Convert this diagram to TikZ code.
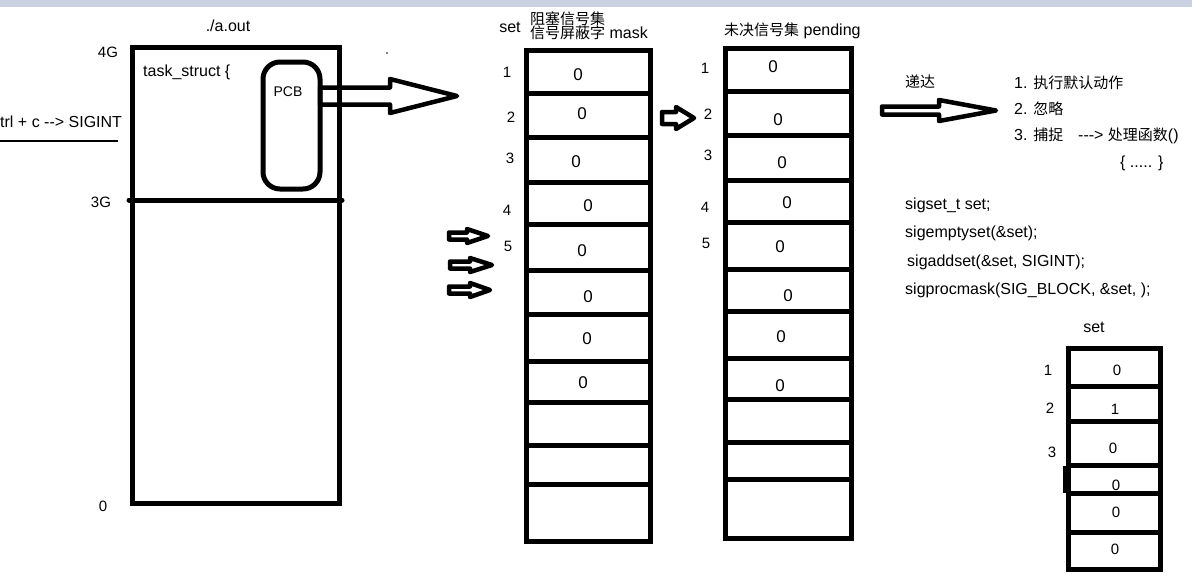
\documentclass[tikz,border=0pt]{standalone}
\usepackage{fontspec}
\setmainfont{Liberation Sans}
\newfontfamily\cjk{Noto Sans CJK SC}
\usepackage{xcolor}
\usepackage{tikz}
\definecolor{bandgrey}{RGB}{202,210,226}

\newcommand{\zhtext}[1]{{\cjk\fontsize{15}{17}\selectfont #1}}
\newcommand{\hollowarrow}[6]{%
    \draw[hollow] (#1,#2-#3) -- (#4,#2-#3) -- (#4,#2-#5) -- (#6,#2)
        -- (#4,#2+#5) -- (#4,#2+#3) -- (#1,#2+#3) -- cycle;}

\tikzset{
    wall/.style={line width=5pt},
    hollow/.style={line width=4.5pt, line join=round},
    lbl/.style={inner sep=0pt, font=\fontsize{16}{18}\selectfont, text height=11pt, text depth=3pt},
    idx/.style={inner sep=0pt, font=\fontsize{15}{17}\selectfont},
    bit/.style={inner sep=0pt, font=\fontsize{17}{19}\selectfont},
}

\begin{document}
\begin{tikzpicture}[x=1pt, y=-1pt]

        \useasboundingbox (0,0) rectangle (1192,579);
        \fill[bandgrey] (0,0) rectangle (1192,7);

        \node[lbl] (aout) at (228,27) {./a.out};
        \node[idx] (g4) at (108,52) {4G};
        \node[idx] (g3) at (101,202) {3G};
        \node[idx] (g0) at (103,506) {0};
        \node[lbl, anchor=west] (task) at (143,72) {task\_struct \{};
        \node[lbl, anchor=west] (ctrlc) at (0,123) {trl + c -{}-> SIGINT};
        \draw[line width=1.2pt] (0,141) -- (118,141);
        \fill (387,53) circle (0.8pt);

        \hollowarrow{320}{96}{8.5}{390}{17}{457}
        \draw[wall] (132,47) rectangle (339.5,503);
        \draw[wall, line cap=round] (129,200) -- (342,200);
        \draw[wall, rounded corners=17pt] (263,62) rectangle (320,189);
        \node[lbl, font=\fontsize{14}{16}\selectfont] (pcb) at (288,92) {PCB};

        \node[lbl] (maskset) at (510,28) {set};
        \node[lbl, anchor=west] (maskzh) at (530,20) {\zhtext{阻塞信号集}};
        \node[lbl, anchor=west] (maskname) at (530,34) {\zhtext{信号屏蔽字} mask};
        \foreach \x/\y/\n [count=\i] in {507/72/1, 511/117/2, 510/158/3, 507/210/4, 508/246/5}
            \node[idx] (mi\i) at (\x,\y) {\n};
        \foreach \x/\y [count=\i] in {578/75, 582/114, 576/162, 588/206, 582/251, 588/297, 587/339, 583/383}
            \node[bit] (mb\i) at (\x,\y) {0};
        \draw[wall] (526,50) rectangle (650,541);
        \foreach \y in {93,137,182,224,270,314,361,402,445,484}
            \draw[wall] (526,\y) -- (650,\y);

        \hollowarrow{449}{236}{3.5}{467}{7}{488}
        \hollowarrow{450}{265}{3.5}{470}{7}{492}
        \hollowarrow{449}{290}{3.5}{470}{7}{490}
        \hollowarrow{662}{118}{6}{676}{11}{694}

        \node[lbl, anchor=west] (pendname) at (724,31) {\zhtext{未决信号集} pending};
        \foreach \x/\y/\n [count=\i] in {705/68/1, 708/114/2, 708/155/3, 705/207/4, 706/243/5}
            \node[idx] (pi\i) at (\x,\y) {\n};
        \foreach \x/\y [count=\i] in {773/67, 778/120, 782/163, 787/203, 780/247, 788/296, 781/337, 780/386}
            \node[bit] (pb\i) at (\x,\y) {0};
        \draw[wall] (725.5,48) rectangle (851,538.5);
        \foreach \y in {91,135,180,222,269.5,311.5,358.5,399.5,442.5,479.5}
            \draw[wall] (725.5,\y) -- (851,\y);

        \node[lbl] (deliver) at (920,83) {\zhtext{递达}};
        \hollowarrow{882}{110.5}{4}{939}{10.5}{996}
        \node[lbl, anchor=west] (act1) at (1014,84) {1. \zhtext{执行默认动作}};
        \node[lbl, anchor=west] (act2) at (1014,110) {2. \zhtext{忽略}};
        \node[lbl, anchor=west] (act3) at (1014,136) {3. \zhtext{捕捉}};
        \node[lbl, anchor=west] (handler) at (1078,136) {-{}-{}-> \zhtext{处理函数}()};
        \node[lbl, anchor=west] (body) at (1120,163) {\{ ..... \}};

        \node[lbl, anchor=west] (code1) at (905,205) {sigset\_t set;};
        \node[lbl, anchor=west] (code2) at (905,233) {sigemptyset(\&set);};
        \node[lbl, anchor=west] (code3) at (907,262) {sigaddset(\&set, SIGINT);};
        \node[lbl, anchor=west] (code4) at (905,290) {sigprocmask(SIG\_BLOCK, \&set, );};

        \node[lbl] (setname) at (1094,328) {set};
        \foreach \x/\y/\n [count=\i] in {1048/370/1, 1050/408/2, 1052/452/3}
            \node[idx] (si\i) at (\x,\y) {\n};
        \foreach \x/\y/\v [count=\i] in {1117/370/0, 1115/409/1, 1113/448/0, 1116/485/0, 1116/512/0, 1115/549/0}
            \node[idx] (sb\i) at (\x,\y) {\v};
        \draw[wall] (1068,348.5) rectangle (1160.5,569.5);
        \foreach \y in {386,421.5,465.5,493,532}
            \draw[wall] (1068,\y) -- (1160.5,\y);
        \draw[wall] (1065.5,465.5) -- (1065.5,493);

\end{tikzpicture}
\end{document}
